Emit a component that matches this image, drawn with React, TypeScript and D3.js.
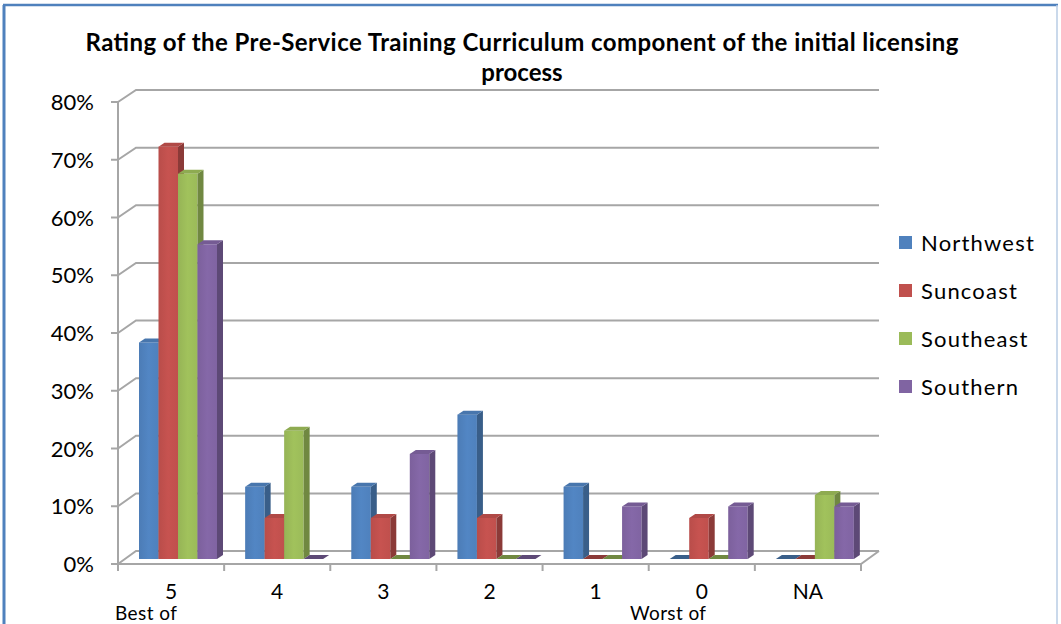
import React from "react";
import * as d3 from "d3";

const categories = ["5", "4", "3", "2", "1", "0", "NA"];
const seriesNames = ["Northwest", "Suncoast", "Southeast", "Southern"];
const northwest = [0.375, 0.125, 0.125, 0.25, 0.125, 0, 0];
const suncoast = [0.714, 0.071, 0.071, 0.071, 0, 0.071, 0];
const southeast = [0.667, 0.222, 0, 0, 0, 0, 0.111];
const southern = [0.545, 0, 0.182, 0, 0.091, 0.091, 0.091];
const seriesValues = [northwest, suncoast, southeast, southern];
const colors = ["#4F81BD", "#C0504D", "#9BBB59", "#8064A2"];
const yTicks = [0, 0.1, 0.2, 0.3, 0.4, 0.5, 0.6, 0.7, 0.8];
const title1 = "Rating of the Pre-Service Training Curriculum component of the initial licensing";
const title2 = "process";

const W = 1061;
const H = 624;
const FONT = "Lato, 'Open Sans', sans-serif";

export default function App() {
  const x0 = d3.scaleBand<string>().domain(categories).range([118, 861]).padding(0);
  const x1 = d3.scaleBand<string>().domain(seriesNames).range([21, 99]).padding(0);
  const yFront = d3.scaleLinear().domain([0, 0.8]).range([564, 102]);
  const yBack = d3.scaleLinear().domain([0, 0.8]).range([551, 90]);
  const yBar = d3.scaleLinear().domain([0, 0.8]).range([559, 97]);
  const backX0 = 136;
  const backX1 = 879;
  const frontX1 = 861;
  const dx = 6;
  const dy = -4;

  const bars: JSX.Element[] = [];
  categories.forEach((c, ci) => {
    seriesNames.forEach((s, si) => {
      const v = seriesValues[si][ci];
      const xl = (x0(c) as number) + (x1(s) as number);
      const w = x1.bandwidth();
      const yt = yBar(v);
      const yb = yBar(0);
      const col = d3.color(colors[si])!;
      const side = col.darker(0.9).toString();
      const top = col.darker(0.25).toString();
      const key = `${ci}-${si}`;
      bars.push(
        <g key={key}>
          {v > 0 && (
            <>
              <rect x={xl} y={yt} width={w} height={yb - yt} fill={`url(#grad${si})`} />
              <polygon
                points={`${xl + w},${yt} ${xl + w + dx},${yt + dy} ${xl + w + dx},${yb + dy} ${xl + w},${yb}`}
                fill={side}
              />
            </>
          )}
          <polygon
            points={`${xl},${yt} ${xl + dx},${yt + dy} ${xl + w + dx},${yt + dy} ${xl + w},${yt}`}
            fill={v > 0 ? top : side}
          />
        </g>
      );
    });
  });

  return (
    <svg width={W} height={H} style={{ position: "absolute", left: 0, top: 0, background: "#fff" }}>
      <defs>
        {colors.map((c, i) => (
          <linearGradient key={c} id={`grad${i}`} x1="0" y1="0" x2="1" y2="0">
            <stop offset="0" stopColor={d3.color(c)!.darker(0.1).toString()} />
            <stop offset="0.5" stopColor={d3.color(c)!.brighter(0.1).toString()} />
            <stop offset="1" stopColor={c} />
          </linearGradient>
        ))}
      </defs>
      <rect x={0} y={0} width={W} height={H} fill="#fff" />
      {/* border */}
      <line x1={4} y1={5} x2={4} y2={H} stroke="#4F81BD" strokeWidth={3} />
      <line x1={3} y1={5} x2={W - 3} y2={5} stroke="#4F81BD" strokeWidth={2.5} />
      <line x1={W - 4} y1={5} x2={W - 4} y2={H} stroke="#B9CDE5" strokeWidth={1.5} />

      {/* title */}
      <text x={522} y={51} textAnchor="middle" fontFamily={FONT} fontWeight="bold" fontSize={24}
        textLength={873} lengthAdjust="spacing" fill="#000">
        {title1}
      </text>
      <text x={522} y={81} textAnchor="middle" fontFamily={FONT} fontWeight="bold" fontSize={24} fill="#000">
        {title2}
      </text>

      {/* gridlines */}
      {yTicks.map((t) => (
        <polyline
          key={t}
          points={`${118},${yFront(t)} ${backX0},${yBack(t)} ${backX1},${yBack(t)}`}
          fill="none"
          stroke="#A6A6A6"
          strokeWidth={2}
        />
      ))}
      {/* floor */}
      <polyline
        points={`118,${yFront(0)} ${frontX1},${yFront(0)} ${backX1},${yBack(0)}`}
        fill="none"
        stroke="#A6A6A6"
        strokeWidth={2}
      />
      {/* y axis */}
      <line x1={118} y1={yFront(0.8)} x2={118} y2={yFront(0)} stroke="#A6A6A6" strokeWidth={2} />
      {yTicks.map((t) => (
        <g key={`t${t}`}>
          <line x1={111} y1={yFront(t)} x2={118} y2={yFront(t)} stroke="#A6A6A6" strokeWidth={2} />
          <text x={94} y={yFront(t) + 8} textAnchor="end" fontFamily={FONT} fontSize={22} fill="#000">
            {d3.format(".0%")(t)}
          </text>
        </g>
      ))}
      {/* x ticks */}
      {[...categories.map((c) => x0(c) as number), frontX1].map((x, i) => (
        <line key={`xt${i}`} x1={x} y1={564} x2={x} y2={571} stroke="#A6A6A6" strokeWidth={2} />
      ))}
      {categories.map((c) => (
        <text
          key={`xl${c}`}
          x={(x0(c) as number) + x0.bandwidth() / 2}
          y={599}
          textAnchor="middle"
          fontFamily={FONT}
          fontSize={21}
          fill="#000"
        >
          {c}
        </text>
      ))}
      <text x={115} y={620} fontFamily={FONT} fontSize={19} textLength={62} fill="#000">Best of</text>
      <text x={630} y={620} fontFamily={FONT} fontSize={19} textLength={76} fill="#000">Worst of</text>

      {bars}

      {/* legend */}
      {seriesNames.map((s, i) => (
        <g key={`lg${s}`} transform={`translate(899, ${243 + i * 48})`}>
          <rect x={0} y={-7} width={13} height={13} fill={colors[i]} />
          <text x={22} y={8} fontFamily={FONT} fontSize={22} letterSpacing={1.2} fill="#000">{s}</text>
        </g>
      ))}
    </svg>
  );
}
